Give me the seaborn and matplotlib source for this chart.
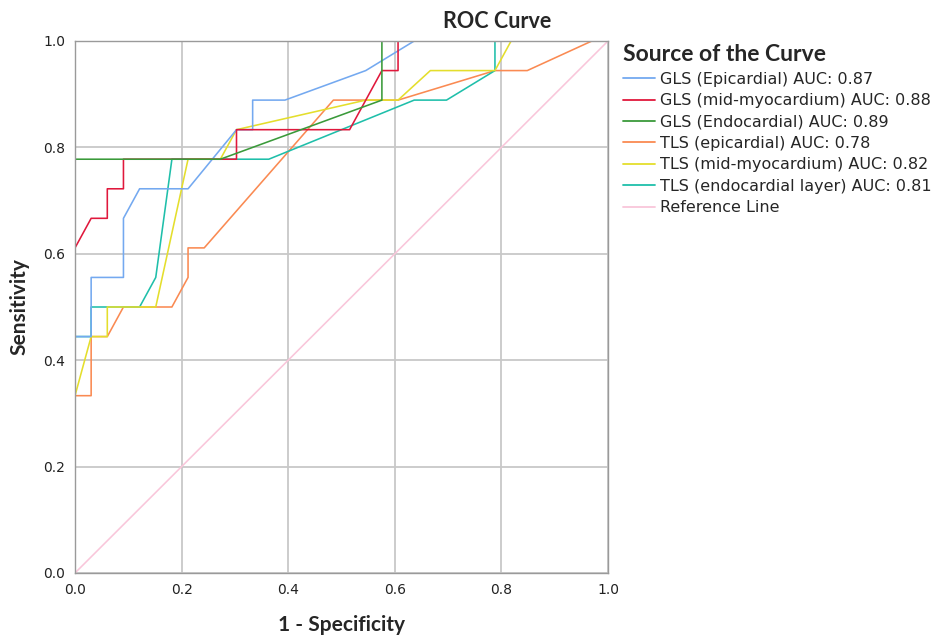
import matplotlib
matplotlib.use("Agg")
import matplotlib.pyplot as plt
import seaborn as sns
import pandas as pd

# ROC curve points (1 - specificity, sensitivity)
gls_epi_x = [0, 0, 0.0303, 0.0303, 0.0909, 0.0909, 0.1212, 0.2121, 0.3030, 0.3333, 0.3333, 0.3939, 0.5455, 0.6364, 1.0]
gls_epi_y = [0, 0.4444, 0.4444, 0.5556, 0.5556, 0.6667, 0.7222, 0.7222, 0.8333, 0.8333, 0.8889, 0.8889, 0.9444, 1.0, 1.0]

gls_mid_x = [0, 0, 0.0303, 0.0606, 0.0606, 0.0909, 0.0909, 0.3030, 0.3030, 0.5152, 0.5758, 0.6061, 0.6061, 1.0]
gls_mid_y = [0, 0.6111, 0.6667, 0.6667, 0.7222, 0.7222, 0.7778, 0.7778, 0.8333, 0.8333, 0.9444, 0.9444, 1.0, 1.0]

gls_endo_x = [0, 0, 0.2727, 0.5758, 0.5758, 1.0]
gls_endo_y = [0, 0.7778, 0.7778, 0.8889, 1.0, 1.0]

tls_epi_x = [0, 0, 0.0303, 0.0303, 0.0606, 0.0909, 0.1818, 0.2121, 0.2121, 0.2424, 0.4848, 0.6061, 0.7879, 0.8485, 0.9697, 1.0]
tls_epi_y = [0, 0.3333, 0.3333, 0.4444, 0.4444, 0.5, 0.5, 0.5556, 0.6111, 0.6111, 0.8889, 0.8889, 0.9444, 0.9444, 1.0, 1.0]

tls_mid_x = [0, 0, 0.0303, 0.0606, 0.0606, 0.1515, 0.2121, 0.2727, 0.3030, 0.5455, 0.6061, 0.6667, 0.7879, 0.8182, 1.0]
tls_mid_y = [0, 0.3333, 0.4444, 0.4444, 0.5, 0.5, 0.7778, 0.7778, 0.8333, 0.8889, 0.8889, 0.9444, 0.9444, 1.0, 1.0]

tls_endo_x = [0, 0, 0.0303, 0.0303, 0.1212, 0.1515, 0.1818, 0.3636, 0.6364, 0.6970, 0.7879, 0.7879, 1.0]
tls_endo_y = [0, 0.4444, 0.4444, 0.5, 0.5, 0.5556, 0.7778, 0.7778, 0.8889, 0.8889, 0.9444, 1.0, 1.0]

ref_x = [0, 1.0]
ref_y = [0, 1.0]

labels = ["GLS (Epicardial) AUC: 0.87", "GLS (mid-myocardium) AUC: 0.88",
          "GLS (Endocardial) AUC: 0.89", "TLS (epicardial) AUC: 0.78",
          "TLS (mid-myocardium) AUC: 0.82", "TLS (endocardial layer) AUC: 0.81",
          "Reference Line"]
colors = ["#74a9f0", "#e0183c", "#3a9a3a", "#fa8a52", "#e4de2c", "#1fbfaa", "#f9c6da"]
xs = [gls_epi_x, gls_mid_x, gls_endo_x, tls_epi_x, tls_mid_x, tls_endo_x, ref_x]
ys = [gls_epi_y, gls_mid_y, gls_endo_y, tls_epi_y, tls_mid_y, tls_endo_y, ref_y]

sns.set_theme(style="white")
plt.rcParams['font.family'] = ['DejaVu Sans']

fig = plt.figure(figsize=(9.41, 6.37), dpi=100)
ax = fig.add_axes([75/941, 1 - 573/637, 533/941, 532/637])

# reference line first (underneath)
draw_order = [6, 3, 5, 4, 0, 1, 2]
handles = {}
for i in draw_order:
    df = pd.DataFrame({"x": xs[i], "y": ys[i]})
    sns.lineplot(data=df, x="x", y="y", sort=False, estimator=None,
                 color=colors[i], linewidth=1.15, ax=ax, label=labels[i], legend=False)
    handles[i] = ax.lines[-1]

ax.set_xlim(0, 1)
ax.set_ylim(0, 1)
ticks = [0.0, 0.2, 0.4, 0.6, 0.8, 1.0]
ax.set_xticks(ticks)
ax.set_yticks(ticks)
ax.set_xticklabels([f"{t:.1f}" for t in ticks])
ax.set_yticklabels([f"{t:.1f}" for t in ticks])
ax.tick_params(axis="both", length=0, labelsize=10, colors="#222222", pad=7)
ax.grid(True, color="#c8c8c8", linewidth=1.3)
ax.set_axisbelow(True)
for s in ax.spines.values():
    s.set_color("#9a9a9a")
    s.set_linewidth(1.0)

ax.set_xlabel("1 - Specificity", fontsize=15, fontweight="bold", family="Lato", labelpad=13)
ax.set_ylabel("Sensitivity", fontsize=15, fontweight="bold", family="Lato", labelpad=10)
fig.text(497/941, 1 - 22/637, "ROC Curve", ha="center", va="center",
         fontsize=15.5, fontweight="bold", family="Lato")

leg = fig.legend([handles[i] for i in range(7)], labels,
                 loc="upper left", bbox_to_anchor=(617/941, 1 - 38/637),
                 frameon=False, fontsize=11.5, title="Source of the Curve",
                 handlelength=2.0, handletextpad=0.3, labelspacing=0.4,
                 borderaxespad=0, alignment="left")
leg.get_title().set_fontweight("bold")
leg.get_title().set_fontfamily("Lato")
leg.get_title().set_fontsize(16.5)
for line in leg.get_lines():
    line.set_linewidth(1.3)

fig.savefig("out.png", dpi=100)
